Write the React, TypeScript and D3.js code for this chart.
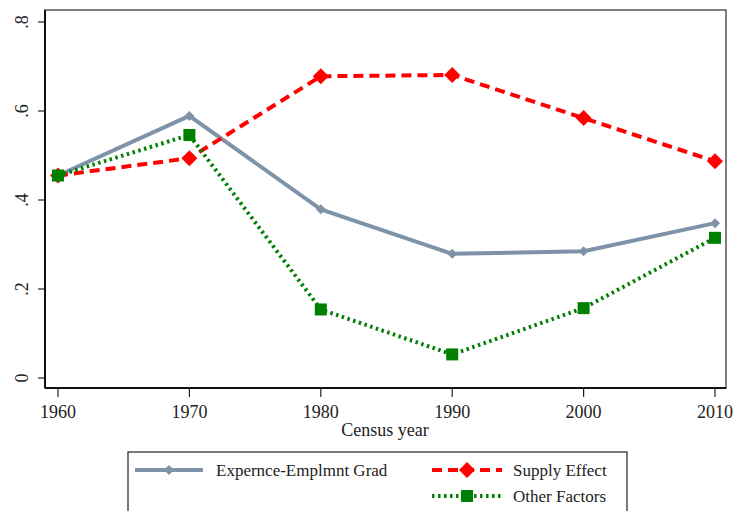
import React from "react";
import * as d3 from "d3";

const years = [1960, 1970, 1980, 1990, 2000, 2010];
const gradient = [0.455, 0.589, 0.379, 0.279, 0.285, 0.348];
const supply = [0.455, 0.494, 0.678, 0.681, 0.584, 0.487];
const other = [0.455, 0.546, 0.154, 0.053, 0.157, 0.315];
const yTicks = [0, 0.2, 0.4, 0.6, 0.8];
const yTickLabels = ["0", ".2", ".4", ".6", ".8"];

const W = 735;
const H = 511;
const font = "'Liberation Serif', 'Times New Roman', serif";

const series = [
  { name: "Expernce-Emplmnt Grad", values: gradient, color: "#7f93a8", dash: "", marker: "smallDiamond" },
  { name: "Supply Effect", values: supply, color: "#ff0000", dash: "10,6", marker: "diamond" },
  { name: "Other Factors", values: other, color: "#008000", dash: "2.5,3.5", marker: "square" },
];

const Marker = ({ kind, x, y, color }: { kind: string; x: number; y: number; color: string }) => {
  if (kind === "square") {
    return <rect x={x - 6} y={y - 6} width={12} height={12} fill={color} />;
  }
  const r = kind === "diamond" ? 8 : 5;
  return (
    <path
      d={`M${x},${y - r}L${x + r},${y}L${x},${y + r}L${x - r},${y}Z`}
      fill={color}
    />
  );
};

const App = () => {
  const x = d3.scaleLinear().domain([1960, 2010]).range([58, 715]);
  const y = d3.scaleLinear().domain([0, 0.8]).range([378, 22]);
  const line = d3
    .line<number>()
    .x((_, i) => x(years[i]))
    .y((d) => y(d));

  const legend = [
    { s: series[0], x0: 135, x1: 203, tx: 216, ly: 470 },
    { s: series[1], x0: 432, x1: 502, tx: 513, ly: 470 },
    { s: series[2], x0: 432, x1: 502, tx: 513, ly: 496 },
  ];

  return (
    <svg
      width={W}
      height={H}
      style={{ position: "absolute", left: 0, top: 0, background: "#fff" }}
      fontFamily={font}
    >
      <rect x={0} y={0} width={W} height={H} fill="#fff" />
      {/* plot frame */}
      <rect x={45} y={10} width={681} height={378} fill="none" stroke="#555" strokeWidth={1.5} />
      <line x1={45} x2={726} y1={388} y2={388} stroke="#111" strokeWidth={2} />
      <line x1={45} x2={45} y1={10} y2={388} stroke="#111" strokeWidth={2} />

      {/* y axis */}
      {yTicks.map((t, i) => (
        <g key={t}>
          <line x1={38} x2={45} y1={y(t)} y2={y(t)} stroke="#222" strokeWidth={1.2} />
          <text
            transform={`translate(28,${y(t)}) rotate(-90)`}
            textAnchor="middle"
            fontSize={18}
            fill="#222"
          >
            {yTickLabels[i]}
          </text>
        </g>
      ))}

      {/* x axis */}
      {years.map((yr) => (
        <g key={yr}>
          <line x1={x(yr)} x2={x(yr)} y1={388} y2={397} stroke="#222" strokeWidth={1.2} />
          <text x={x(yr)} y={418} textAnchor="middle" fontSize={18} fill="#222">
            {yr}
          </text>
        </g>
      ))}
      <text x={385} y={436} textAnchor="middle" fontSize={18} fill="#222">
        Census year
      </text>

      {/* series */}
      {series.map((s) => (
        <g key={s.name}>
          <path
            d={line(s.values) || ""}
            fill="none"
            stroke={s.color}
            strokeWidth={4}
            strokeDasharray={s.dash}
            strokeLinejoin="round"
          />
          {s.values.map((v, i) => (
            <Marker key={i} kind={s.marker} x={x(years[i])} y={y(v)} color={s.color} />
          ))}
        </g>
      ))}

      {/* legend */}
      <rect x={128} y={452} width={499} height={70} fill="#fff" stroke="#222" strokeWidth={1.2} />
      {legend.map(({ s, x0, x1, tx, ly }) => (
        <g key={s.name}>
          <line
            x1={x0}
            x2={x1}
            y1={ly}
            y2={ly}
            stroke={s.color}
            strokeWidth={4}
            strokeDasharray={s.dash}
          />
          <Marker kind={s.marker} x={(x0 + x1) / 2} y={ly} color={s.color} />
          <text x={tx} y={ly + 6} fontSize={17} fill="#222">
            {s.name}
          </text>
        </g>
      ))}
    </svg>
  );
};

export default App;
